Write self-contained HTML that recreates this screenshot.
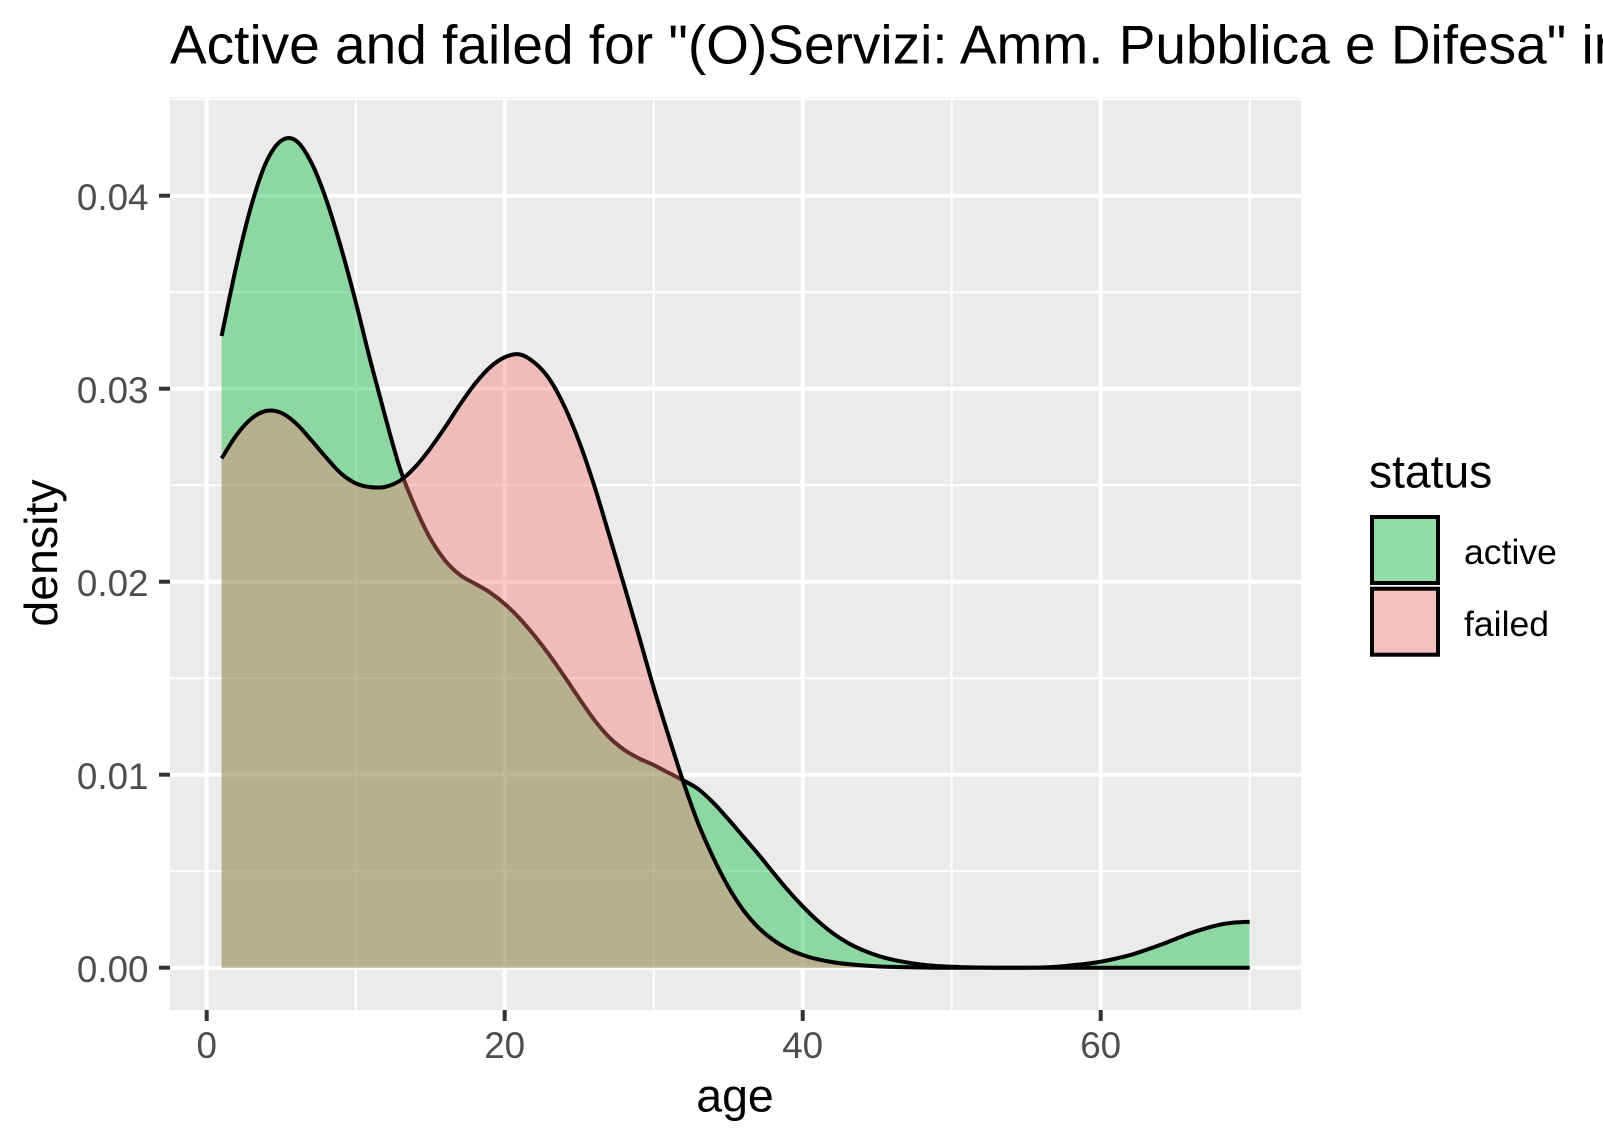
<!DOCTYPE html>
<html lang="en">
<head>
<meta charset="utf-8">
<title>Active and failed density chart</title>
<style>
html,body{margin:0;padding:0;background:#fff;width:1603px;height:1143px;overflow:hidden}
svg{display:block}
text{font-family:"Liberation Sans",Arial,sans-serif}
</style>
</head>
<body>
<svg id="chart" xmlns="http://www.w3.org/2000/svg" width="1603" height="1143" viewBox="0 0 1603 1143">
  <rect x="0" y="0" width="1603" height="1143" fill="#ffffff"/>
  <text x="170" y="63.3" font-size="55" fill="#000">Active and failed for "(O)Servizi: Amm. Pubblica e Difesa" in</text>
  <rect x="170" y="97.5" width="1131" height="912.5" fill="#EBEBEB"/>
  <g id="grid"></g>
  <g id="series"></g>
  <g id="axes"></g>
  <text x="735" y="1111.7" font-size="46.5" text-anchor="middle" fill="#000">age</text>
  <text transform="translate(57 553) rotate(-90)" font-size="46.5" text-anchor="middle" fill="#000">density</text>
  <g>
    <text x="1369" y="487.3" font-size="46.2" fill="#000">status</text>
    <g>
      <rect x="1370" y="515" width="70" height="70" fill="#F2F2F2"/>
      <rect x="1372" y="517" width="66" height="66" fill="#00BA38" fill-opacity="0.4" stroke="#000" stroke-width="4"/>
      <text x="1464" y="564" font-size="35.6" fill="#000">active</text>
    </g>
    <g>
      <rect x="1370" y="586.7" width="70" height="70" fill="#F2F2F2"/>
      <rect x="1372" y="588.7" width="66" height="66" fill="#F8766D" fill-opacity="0.4" stroke="#000" stroke-width="4"/>
      <text x="1464" y="636" font-size="35.6" fill="#000">failed</text>
    </g>
  </g>
</svg>
<script>
var ages = [1,2,3,4,5,6,7,8,9,10,11,12,13,14,15,16,17,18,19,20,21,22,23,24,25,26,27,28,29,30,31,32,33,34,35,36,37,38,39,40,41,42,43,44,45,46,47,48,49,50,51,52,53,54,55,56,57,58,59,60,61,62,63,64,65,66,67,68,69,70];
var activeDensity = [.03273,.0364,.0395,.04175,.04285,.04285,.04175,.03985,.03735,.0345,.0314,.0285,.0258,.02385,.02225,.0211,.02035,.0199,.01945,.01885,.0181,.0172,.0162,.0151,.01395,.01285,.01195,.0113,.01085,.0105,.0101,.0097,.00925,.00855,.0077,.0068,.0059,.00495,.00402,.00318,.00243,.0018,.0013,.00092,.00063,.00042,.00027,.00016,.00009,.00005,.00002,.00001,0,0,0,.00001,.00005,.00012,.0002,.00031,.00047,.00066,.00091,.00118,.00148,.00178,.00203,.00223,.00234,.00238];
var failedDensity = [.02639,.0276,.02845,.02885,.02875,.0282,.02735,.02645,.02562,.0251,.0249,.02492,.02525,.02595,.0269,.028,.02918,.03025,.0311,.03163,.03178,.03135,.0305,.0291,.02725,.025,.02245,.01985,.0172,.0145,.012,.0096,.00745,.0057,.0042,.003,.0021,.00145,.00098,.00066,.00044,.00029,.00019,.00012,.00007,.00004,.00002,.00001,0,0,0,0,0,0,0,0,0,0,0,0,0,0,0,0,0,0,0,0,0,0];
var xTicks = [0,20,40,60];
var xMinorTicks = [10,30,50,70];
var yTicks = [0,0.01,0.02,0.03,0.04];
var yTickLabels = ["0.00","0.01","0.02","0.03","0.04"];
var yMinorTicks = [0.005,0.015,0.025,0.035,0.045];

var SVGNS = "http://www.w3.org/2000/svg";
var PANEL = {l:170, r:1301, t:97.5, b:1010};
function xScale(a){ return 206.7 + a * 14.9; }
function yScale(d){ return 967.7 - d * 19300; }
function make(tag, attrs, parent){
  var el = document.createElementNS(SVGNS, tag);
  for (var k in attrs) el.setAttribute(k, attrs[k]);
  parent.appendChild(el);
  return el;
}
function curve(xs, ys){
  var pts = xs.map(function(a,i){ return [xScale(a), yScale(ys[i])]; });
  var d = "M" + pts[0][0].toFixed(2) + " " + pts[0][1].toFixed(2);
  for (var i = 0; i < pts.length - 1; i++){
    var p0 = pts[Math.max(i-1,0)], p1 = pts[i], p2 = pts[i+1], p3 = pts[Math.min(i+2,pts.length-1)];
    var c1x = p1[0] + (p2[0]-p0[0])/6, c1y = p1[1] + (p2[1]-p0[1])/6;
    var c2x = p2[0] - (p3[0]-p1[0])/6, c2y = p2[1] - (p3[1]-p1[1])/6;
    d += "C" + c1x.toFixed(2) + " " + c1y.toFixed(2) + " " + c2x.toFixed(2) + " " + c2y.toFixed(2) + " " + p2[0].toFixed(2) + " " + p2[1].toFixed(2);
  }
  return d;
}

var grid = document.getElementById("grid");
yMinorTicks.forEach(function(v){
  var l = make("line", {x1:PANEL.l, x2:PANEL.r, y1:yScale(v), y2:yScale(v), stroke:"#fff", "stroke-width":2}, grid);
  
  
});
xMinorTicks.forEach(function(v){
  var l = make("line", {x1:xScale(v), x2:xScale(v), y1:PANEL.t, y2:PANEL.b, stroke:"#fff", "stroke-width":2}, grid);
  
  
});
yTicks.forEach(function(v){
  var l = make("line", {x1:PANEL.l, x2:PANEL.r, y1:yScale(v), y2:yScale(v), stroke:"#fff", "stroke-width":4}, grid);
  
  
});
xTicks.forEach(function(v){
  var l = make("line", {x1:xScale(v), x2:xScale(v), y1:PANEL.t, y2:PANEL.b, stroke:"#fff", "stroke-width":4}, grid);
  
  
});

var seriesGroup = document.getElementById("series");
function drawSeries(name, values, color){
  var top = curve(ages, values);
  var base = yScale(0);
  var area = make("path", {d: top + "L" + xScale(ages[ages.length-1]) + " " + base + "L" + xScale(ages[0]) + " " + base + "Z", fill: color, "fill-opacity": 0.4, stroke: "none"}, seriesGroup);
  
  
  var line = make("path", {d: top, fill: "none", stroke: "#000", "stroke-width": 4, "stroke-linejoin": "round", "stroke-linecap": "butt"}, seriesGroup);
  
  
}
drawSeries("active", activeDensity, "#00BA38");
drawSeries("failed", failedDensity, "#F8766D");

var axes = document.getElementById("axes");
yTicks.forEach(function(v,i){
  var t = make("line", {x1:159, x2:PANEL.l, y1:yScale(v), y2:yScale(v), stroke:"#333333", "stroke-width":4}, axes);
  
  
  var lab = make("text", {x:148.5, y:yScale(v)+14.3, "font-size":36.8, "text-anchor":"end", fill:"#4D4D4D"}, axes);
  lab.textContent = yTickLabels[i];
  
  
});
xTicks.forEach(function(v){
  var t = make("line", {x1:xScale(v), x2:xScale(v), y1:PANEL.b, y2:1021, stroke:"#333333", "stroke-width":4}, axes);
  
  
  var lab = make("text", {x:xScale(v), y:1058, "font-size":36.8, "text-anchor":"middle", fill:"#4D4D4D"}, axes);
  lab.textContent = String(v);
  
  
});
</script>
</body>
</html>
